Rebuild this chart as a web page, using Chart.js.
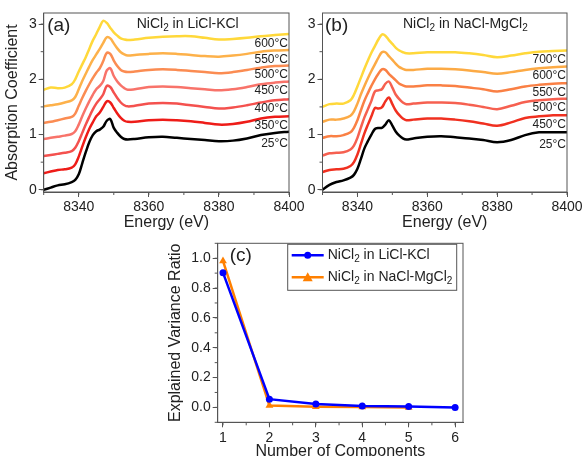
<!DOCTYPE html>
<html>
<head>
<meta charset="utf-8">
<script src="https://cdn.jsdelivr.net/npm/chart.js@4.4.1/dist/chart.umd.min.js"></script>
<style>
  html, body { margin: 0; padding: 0; background: #fff; overflow: hidden; }
  #wrap { position: relative; width: 585px; height: 456px; }
  canvas { position: absolute; }
</style>
</head>
<body>
<div id="wrap">
  <canvas id="chartA" width="310" height="232" style="left:0;top:0"></canvas>
  <canvas id="chartB" width="295" height="232" style="left:290px;top:0"></canvas>
  <canvas id="chartC" width="330" height="233" style="left:150px;top:228px"></canvas>
</div>
<script>
// energy grid (eV) shared by both XANES panels
var energy = [8330, 8332, 8334, 8336, 8338, 8339, 8340, 8341, 8342, 8343, 8344, 8345, 8346, 8347, 8348, 8349, 8350,
              8351, 8352, 8353, 8354, 8356, 8360, 8364, 8368, 8372, 8376, 8380, 8384, 8388, 8392, 8396, 8400];

// (a) NiCl2 in LiCl-KCl, stacked spectra as plotted
var licl25  = [0.00, 0.04, 0.08, 0.10, 0.14, 0.18, 0.28, 0.48, 0.68, 0.86, 0.99, 1.06, 1.09, 1.14, 1.25, 1.28, 1.12,
               1.03, 0.96, 0.92, 0.91, 0.92, 0.95, 0.96, 0.94, 0.92, 0.90, 0.88, 0.89, 0.93, 0.99, 1.03, 1.05];
var licl350 = [0.30, 0.33, 0.36, 0.37, 0.40, 0.46, 0.60, 0.78, 0.95, 1.10, 1.22, 1.33, 1.40, 1.50, 1.60, 1.58, 1.48,
               1.38, 1.30, 1.25, 1.23, 1.23, 1.26, 1.27, 1.26, 1.24, 1.21, 1.18, 1.19, 1.23, 1.29, 1.32, 1.33];
var licl400 = [0.61, 0.63, 0.65, 0.67, 0.70, 0.76, 0.88, 1.03, 1.18, 1.32, 1.45, 1.56, 1.64, 1.73, 1.88, 1.86, 1.76,
               1.66, 1.58, 1.53, 1.51, 1.52, 1.56, 1.57, 1.56, 1.53, 1.50, 1.47, 1.49, 1.53, 1.58, 1.62, 1.64];
var licl450 = [0.92, 0.94, 0.96, 0.98, 1.01, 1.06, 1.18, 1.33, 1.47, 1.60, 1.72, 1.82, 1.88, 1.97, 2.16, 2.20, 2.06,
               1.96, 1.89, 1.84, 1.81, 1.82, 1.86, 1.87, 1.86, 1.84, 1.82, 1.80, 1.82, 1.86, 1.91, 1.94, 1.96];
var licl500 = [1.21, 1.23, 1.26, 1.29, 1.32, 1.38, 1.52, 1.66, 1.79, 1.91, 2.02, 2.12, 2.20, 2.33, 2.48, 2.46, 2.34,
               2.24, 2.17, 2.14, 2.13, 2.14, 2.17, 2.18, 2.17, 2.15, 2.13, 2.11, 2.13, 2.17, 2.21, 2.24, 2.25];
var licl550 = [1.51, 1.53, 1.55, 1.58, 1.62, 1.68, 1.82, 1.97, 2.10, 2.23, 2.35, 2.45, 2.55, 2.66, 2.76, 2.74, 2.65,
               2.56, 2.49, 2.45, 2.43, 2.44, 2.46, 2.47, 2.46, 2.44, 2.42, 2.41, 2.43, 2.46, 2.50, 2.52, 2.53];
var licl600 = [1.81, 1.85, 1.84, 1.85, 1.91, 2.00, 2.14, 2.27, 2.40, 2.55, 2.70, 2.82, 2.95, 3.06, 3.02, 2.93, 2.85,
               2.79, 2.74, 2.72, 2.71, 2.72, 2.75, 2.77, 2.78, 2.78, 2.75, 2.72, 2.73, 2.75, 2.78, 2.80, 2.82];

// (b) NiCl2 in NaCl-MgCl2
var nacl25  = [0.00, 0.09, 0.14, 0.17, 0.22, 0.27, 0.38, 0.56, 0.75, 0.88, 1.00, 1.10, 1.12, 1.12, 1.18, 1.26, 1.16,
               1.05, 0.98, 0.93, 0.91, 0.93, 0.96, 0.97, 0.95, 0.93, 0.90, 0.86, 0.90, 0.99, 1.04, 1.04, 1.04];
var nacl450 = [0.32, 0.36, 0.37, 0.38, 0.43, 0.50, 0.64, 0.83, 1.02, 1.18, 1.33, 1.48, 1.47, 1.49, 1.60, 1.67, 1.55,
               1.43, 1.35, 1.29, 1.26, 1.27, 1.29, 1.29, 1.27, 1.24, 1.20, 1.16, 1.22, 1.30, 1.33, 1.35, 1.35];
var nacl500 = [0.62, 0.66, 0.67, 0.68, 0.73, 0.80, 0.94, 1.13, 1.31, 1.46, 1.61, 1.78, 1.80, 1.82, 1.92, 1.96, 1.85,
               1.72, 1.64, 1.58, 1.55, 1.56, 1.58, 1.58, 1.57, 1.54, 1.50, 1.46, 1.52, 1.59, 1.62, 1.64, 1.65];
var nacl550 = [0.94, 0.97, 0.97, 0.99, 1.04, 1.12, 1.26, 1.44, 1.61, 1.75, 1.88, 2.00, 2.10, 2.18, 2.17, 2.10, 2.04,
               1.98, 1.92, 1.89, 1.87, 1.87, 1.89, 1.89, 1.88, 1.85, 1.82, 1.78, 1.82, 1.87, 1.90, 1.92, 1.93];
var nacl600 = [1.23, 1.27, 1.27, 1.29, 1.34, 1.42, 1.56, 1.73, 1.88, 2.02, 2.15, 2.27, 2.39, 2.49, 2.49, 2.42, 2.35,
               2.28, 2.22, 2.19, 2.17, 2.17, 2.19, 2.19, 2.18, 2.16, 2.13, 2.10, 2.13, 2.17, 2.20, 2.22, 2.23];
var nacl700 = [1.50, 1.55, 1.56, 1.56, 1.62, 1.72, 1.87, 2.03, 2.19, 2.34, 2.48, 2.60, 2.72, 2.81, 2.79, 2.71, 2.64,
               2.57, 2.52, 2.49, 2.47, 2.47, 2.49, 2.49, 2.49, 2.47, 2.44, 2.40, 2.43, 2.47, 2.50, 2.51, 2.52];

// (c) PCA explained variance
var components = [1, 2, 3, 4, 5, 6];
var varLiCl = [0.903, 0.055, 0.022, 0.010, 0.006, 0.000];
var varNaCl = [0.982, 0.012, 0.005, 0.002, 0.000];

var FONT = '"Liberation Sans", Arial, sans-serif';
var AXIS = '#555';
var TEXT = '#222';

function pts(xs, ys) {
    return ys.map(function (v, i) { return { x: xs[i], y: v }; });
}

function fixTicks(values) {
    return function (s) { s.ticks = values.map(function (v) { return { value: v }; }); };
}

// draw text where odd parts are subscripts
function richText(ctx, parts, x, y, size) {
    var cx = x;
    parts.forEach(function (p, i) {
        var sub = i % 2 === 1;
        ctx.font = (sub ? Math.round(size * 0.7) : size) + 'px ' + FONT;
        ctx.fillText(p, cx, sub ? y + size * 0.3 : y);
        cx += ctx.measureText(p).width;
    });
}

// box frame + minor ticks
var frameMinor = {
    id: 'frameMinor',
    afterDraw: function (chart, args, o) {
        var ctx = chart.ctx, a = chart.chartArea, x = chart.scales.x, y = chart.scales.y;
        ctx.save();
        ctx.strokeStyle = AXIS;
        ctx.lineWidth = 1;
        ctx.strokeRect(a.left, a.top, a.right - a.left, a.bottom - a.top);
        ctx.beginPath();
        var i, px;
        for (i = Math.ceil(x.min / o.xStep); i * o.xStep <= x.max + 1e-9; i++) {
            px = x.getPixelForValue(i * o.xStep);
            ctx.moveTo(px, a.bottom); ctx.lineTo(px, a.bottom + 3);
        }
        for (i = Math.ceil(y.min / o.yStep - 1e-9); i * o.yStep <= y.max + 1e-9; i++) {
            px = y.getPixelForValue(i * o.yStep);
            ctx.moveTo(a.left, px); ctx.lineTo(a.left - 3, px);
        }
        ctx.stroke();
        ctx.restore();
    }
};

// panel tag, title, temperature labels, legend
var panelText = {
    id: 'panelText',
    afterDraw: function (chart, args, o) {
        var ctx = chart.ctx, a = chart.chartArea, y = chart.scales.y;
        ctx.save();
        ctx.fillStyle = TEXT;
        ctx.textBaseline = 'middle';
        ctx.textAlign = 'left';
        ctx.font = '19px ' + FONT;
        ctx.fillText(o.tag, a.left + o.tagX, a.top + o.tagY);
        if (o.title) richText(ctx, o.title, a.left + o.titleX, a.top + 11, 14);
        if (o.tempLabels) {
            ctx.textAlign = 'right';
            ctx.font = '12px ' + FONT;
            chart.data.datasets.forEach(function (ds) {
                var last = ds.data[ds.data.length - 1].y;
                var dy = ds.label === '25°C' ? 0.22 : 0.17;
                ctx.fillText(ds.label, a.right - 1, y.getPixelForValue(last - dy));
            });
        }
        if (o.legend) {
            var lx = a.left + 70, ly = a.top + 1;
            ctx.strokeStyle = AXIS;
            ctx.lineWidth = 1;
            ctx.strokeRect(lx, ly, 169, 46);
            chart.data.datasets.forEach(function (ds, k) {
                var cy = ly + 11 + k * 22;
                ctx.strokeStyle = ds.borderColor;
                ctx.fillStyle = ds.borderColor;
                ctx.lineWidth = 2.5;
                ctx.beginPath();
                ctx.moveTo(lx + 4, cy); ctx.lineTo(lx + 36, cy);
                ctx.stroke();
                ctx.beginPath();
                if (ds.pointStyle === 'triangle') {
                    ctx.moveTo(lx + 20, cy - 5); ctx.lineTo(lx + 25, cy + 4); ctx.lineTo(lx + 15, cy + 4);
                    ctx.closePath();
                } else {
                    ctx.arc(lx + 20, cy, 3.5, 0, Math.PI * 2);
                }
                ctx.fill();
                ctx.fillStyle = TEXT;
                ctx.textAlign = 'left';
                richText(ctx, ds.legendParts, lx + 40, cy, 14);
            });
        }
        ctx.restore();
    }
};

function axisStyle(extra, fmt) {
    var base = {
        grid: { drawOnChartArea: false, drawTicks: true, tickLength: 5, color: AXIS },
        border: { color: AXIS, width: 1 },
        ticks: { font: { size: 14, family: FONT }, color: TEXT, padding: 2, callback: fmt }
    };
    return Object.assign(base, extra);
}

function plain(v) { return String(v); }
function oneDec(v) { return v.toFixed(1); }

function spectraChart(id, curves, pad, yWidth, xHeight, yTitle, panel) {
    return new Chart(document.getElementById(id).getContext('2d'), {
        type: 'line',
        data: {
            datasets: curves.map(function (c) {
                return {
                    label: c[0],
                    data: pts(energy, c[1]),
                    borderColor: c[2],
                    borderWidth: 2.5,
                    pointRadius: 0,
                    tension: 0.35,
                    fill: false
                };
            })
        },
        options: {
            responsive: false,
            animation: false,
            layout: { padding: pad },
            plugins: { legend: { display: false }, tooltip: { enabled: false }, frameMinor: { xStep: 10, yStep: 0.5 }, panelText: panel },
            scales: {
                x: axisStyle({
                    type: 'linear', min: 8330, max: 8400,
                    afterBuildTicks: fixTicks([8340, 8360, 8380, 8400]),
                    afterFit: function (s) { s.height = xHeight; },
                    title: { display: true, text: 'Energy (eV)', font: { size: 16, family: FONT }, color: TEXT, padding: 0 }
                }, plain),
                y: axisStyle({
                    min: -0.04, max: 3.2,
                    afterBuildTicks: fixTicks([0, 1, 2, 3]),
                    afterFit: function (s) { s.width = yWidth; },
                    title: { display: !!yTitle, text: yTitle || '', font: { size: 16, family: FONT }, color: TEXT, padding: 0 }
                }, plain)
            }
        },
        plugins: [frameMinor, panelText]
    });
}

document.addEventListener("DOMContentLoaded", function () {
    spectraChart('chartA', [
        ['600°C', licl600, '#ffd83a'],
        ['550°C', licl550, '#fdb14a'],
        ['500°C', licl500, '#fb8c52'],
        ['450°C', licl450, '#f8736a'],
        ['400°C', licl400, '#f4514e'],
        ['350°C', licl350, '#ee1c18'],
        ['25°C', licl25, '#000000']
    ], { left: 3, top: 13, right: 21, bottom: 0 }, 40.7, 40, 'Absorption Coefficient',
       { tag: '(a)', tagX: 3.5, tagY: 13, title: ['NiCl', '2', ' in LiCl-KCl'], titleX: 93, tempLabels: true });

    spectraChart('chartB', [
        ['700°C', nacl700, '#ffd83a'],
        ['600°C', nacl600, '#fcaa45'],
        ['550°C', nacl550, '#fa8045'],
        ['500°C', nacl500, '#f66050'],
        ['450°C', nacl450, '#f03020'],
        ['25°C', nacl25, '#000000']
    ], { left: 0, top: 13, right: 18, bottom: 0 }, 32.5, 40, null,
       { tag: '(b)', tagX: 2.5, tagY: 13, title: ['NiCl', '2', ' in NaCl-MgCl', '2'], titleX: 80.5, tempLabels: true });

    new Chart(document.getElementById('chartC').getContext('2d'), {
        type: 'line',
        data: {
            datasets: [{
                label: 'NiCl2 in LiCl-KCl',
                legendParts: ['NiCl', '2', ' in LiCl-KCl'],
                data: pts(components, varLiCl),
                borderColor: '#0000ff',
                backgroundColor: '#0000ff',
                borderWidth: 2.5,
                pointStyle: 'circle',
                pointRadius: 3.5,
                pointBorderWidth: 0
            }, {
                label: 'NiCl2 in NaCl-MgCl2',
                legendParts: ['NiCl', '2', ' in NaCl-MgCl', '2'],
                data: pts(components, varNaCl),
                borderColor: '#ff8000',
                backgroundColor: '#ff8000',
                borderWidth: 2.5,
                pointStyle: 'triangle',
                pointRadius: 4.5,
                pointBorderWidth: 0
            }]
        },
        options: {
            responsive: false,
            animation: false,
            layout: { padding: { left: 16, top: 15.3, right: 17, bottom: 0 } },
            plugins: {
                legend: { display: false }, tooltip: { enabled: false },
                frameMinor: { xStep: 0.5, yStep: 0.1 },
                panelText: { tag: '(c)', tagX: 12, tagY: 12, legend: true }
            },
            scales: {
                x: axisStyle({
                    type: 'linear', min: 0.886, max: 6.17,
                    afterBuildTicks: fixTicks(components),
                    afterFit: function (s) { s.height = 38.7; },
                    title: { display: true, text: 'Number of Components', font: { size: 16, family: FONT }, color: TEXT, padding: 0 }
                }, plain),
                y: axisStyle({
                    min: -0.1, max: 1.1,
                    afterBuildTicks: fixTicks([0, 0.2, 0.4, 0.6, 0.8, 1.0]),
                    afterFit: function (s) { s.width = 51.7; },
                    title: { display: true, text: 'Explained Variance Ratio', font: { size: 16, family: FONT }, color: TEXT, padding: 0 }
                }, oneDec)
            }
        },
        plugins: [frameMinor, panelText]
    });
});
</script>
</body>
</html>
